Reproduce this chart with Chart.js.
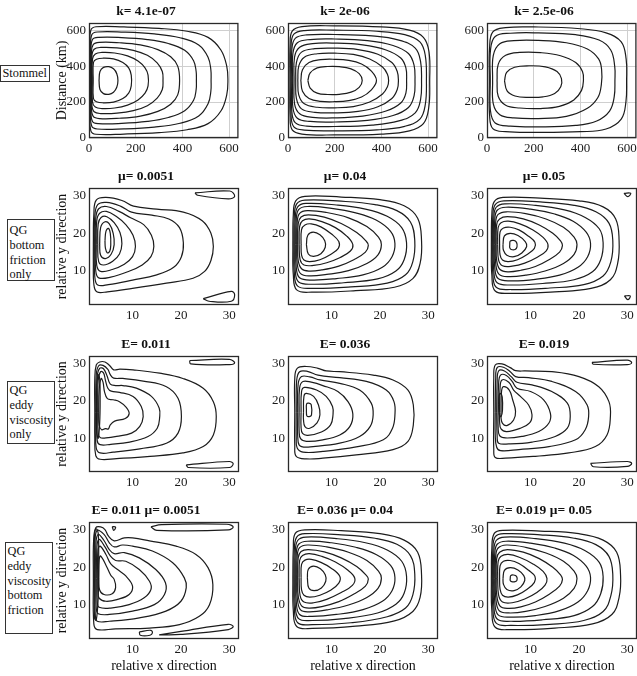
<!DOCTYPE html>
<html lang="en">
<head>
<meta charset="UTF-8">
<title>Stommel vs QG contours</title>
<script src="https://cdn.jsdelivr.net/npm/chart.js"></script>
<style>
  body { margin: 0; background: #fff; }
  #fig { position: relative; width: 637px; height: 676px; overflow: hidden; font-family: "Liberation Serif", "Times New Roman", serif; }
  #fig canvas { position: absolute; }
  .rowlabel { position: absolute; box-sizing: border-box; border: 1.5px solid #333; background: #fff;
              font-size: 12.3px; line-height: 14.8px; color: #111; padding: 1px 0 0 1.5px; z-index: 2; white-space: nowrap; }
</style>
</head>
<body>
<div id="fig">
  <div class="rowlabel" style="left:0;top:65px;width:50px;height:17px;line-height:13px;">Stommel</div>
  <div class="rowlabel" style="left:7px;top:219px;width:48px;height:62px;padding-top:3px;">QG<br>bottom<br>friction<br>only</div>
  <div class="rowlabel" style="left:7px;top:381px;width:48px;height:63px;">QG<br>eddy<br>viscosity<br>only</div>
  <div class="rowlabel" style="left:5px;top:542px;width:48px;height:92px;">QG<br>eddy<br>viscosity<br>bottom<br>friction</div>
</div>
<script>
// contour lines, one flat list [x0,y0,x1,y1,...] per closed curve

// Stommel, k = 4.1e-07
const stommelA = [
  [3,320, 3.5,500, 8,600, 30,619, 150,618, 300,610, 420,594, 510,560, 565,490, 590,400, 595,320, 590,240, 565,150, 510,80, 420,46, 300,30, 150,22, 30,21, 8,40, 3.5,140, 3,320],
  [5,320, 6,490, 12,575, 35,590, 150,589, 280,579, 390,558, 470,518, 510,450, 522,380, 523,320, 522,260, 510,190, 470,122, 390,82, 280,61, 150,51, 35,50, 12,65, 6,150, 5,320],
  [7,320, 8,480, 15,548, 40,560, 140,559, 250,548, 340,526, 410,488, 448,430, 459,370, 460,320, 459,270, 448,210, 410,152, 340,114, 250,92, 140,81, 40,80, 15,92, 8,160, 7,320],
  [9,320, 10,470, 18,520, 45,532, 130,530, 220,518, 295,492, 350,452, 380,400, 388,320, 380,240, 350,188, 295,148, 220,122, 130,110, 45,108, 18,120, 10,170, 9,320],
  [11,320, 12,455, 22,494, 50,504, 120,502, 190,488, 250,460, 292,418, 314,370, 317,320, 314,270, 292,222, 250,180, 190,152, 120,138, 50,136, 22,146, 12,185, 11,320],
  [14,320, 15,440, 27,468, 55,476, 110,473, 165,457, 210,428, 240,390, 253,350, 253,290, 240,250, 210,212, 165,183, 110,167, 55,164, 27,172, 15,200, 14,320],
  [18,320, 19,420, 32,438, 60,444, 105,440, 145,420, 170,390, 181,350, 181,290, 170,250, 145,220, 105,200, 60,196, 32,202, 19,220, 18,320],
  [43,320, 47,370, 62,393, 85,397, 105,385, 119,358, 124,320, 119,282, 105,255, 85,243, 62,247, 47,270, 43,320]
];

// Stommel, k = 2e-06
const stommelB = [
  [8,320, 9,520, 18,595, 60,620, 200,624, 400,618, 520,600, 580,560, 604,480, 607,320, 603,170, 580,80, 520,40, 400,22, 200,17, 60,22, 18,45, 9,120, 8,320],
  [12,320, 13,510, 25,578, 70,598, 200,600, 380,594, 500,575, 565,535, 588,460, 593,320, 588,185, 565,105, 500,65, 380,45, 200,40, 70,44, 25,62, 13,130, 12,320],
  [16,320, 17,500, 32,556, 80,574, 200,576, 360,568, 475,545, 545,500, 568,425, 572,320, 568,215, 545,140, 475,95, 360,72, 200,64, 80,66, 32,84, 17,140, 16,320],
  [20,320, 21,470, 40,530, 95,548, 200,551, 340,542, 450,515, 516,470, 540,405, 544,320, 540,235, 516,170, 450,125, 340,98, 200,89, 95,92, 40,110, 21,170, 20,320],
  [26,320, 28,450, 50,505, 105,525, 200,528, 320,518, 420,490, 483,445, 505,390, 508,320, 505,250, 483,195, 420,150, 320,122, 200,112, 105,115, 50,135, 28,190, 26,320],
  [33,320, 36,420, 58,478, 115,497, 200,500, 300,492, 385,466, 445,420, 468,370, 473,320, 468,270, 445,220, 385,174, 300,148, 200,140, 115,143, 58,162, 36,220, 33,320],
  [42,320, 46,400, 70,450, 125,469, 200,472, 280,465, 350,440, 405,395, 426,355, 431,320, 426,285, 405,245, 350,200, 280,175, 200,168, 125,171, 70,190, 46,240, 42,320],
  [55,320, 62,380, 90,420, 140,436, 200,438, 260,432, 315,412, 355,375, 379,320, 355,265, 315,228, 260,208, 200,202, 140,204, 90,220, 62,260, 55,320],
  [85,320, 95,362, 125,390, 170,398, 220,397, 270,385, 305,358, 318,320, 305,282, 270,255, 220,243, 170,242, 125,250, 95,278, 85,320]
];

// Stommel, k = 2.5e-06
const stommelC = [
  [10,320, 11,500, 25,590, 80,614, 200,618, 400,608, 510,585, 575,535, 596,440, 598,320, 595,200, 575,105, 510,50, 400,35, 200,31, 80,35, 25,52, 11,130, 10,320],
  [14,320, 15,490, 35,565, 100,583, 220,585, 380,575, 480,545, 530,490, 547,400, 548,320, 545,230, 525,150, 470,95, 380,70, 220,62, 100,66, 35,84, 15,150, 14,320],
  [24,320, 27,460, 55,525, 115,542, 220,543, 340,530, 430,495, 478,440, 491,380, 490,300, 475,225, 430,165, 340,120, 220,108, 115,112, 55,130, 27,190, 24,320],
  [43,320, 48,410, 80,460, 140,476, 230,475, 315,458, 380,420, 409,370, 413,320, 405,265, 372,212, 310,176, 230,164, 140,167, 80,182, 48,232, 43,320],
  [75,318, 84,365, 118,394, 180,402, 250,396, 300,370, 319,330, 316,285, 290,248, 240,229, 180,226, 120,234, 86,262, 75,318]
];

// QG bottom friction only, mu = 0.0051
const bottomA = [
  [1.9,17, 2.0,25, 2.5,28.8, 4.5,29.5, 7.8,28.7, 10.2,27.2, 15,26.4, 20.5,25.6, 24.4,23.3, 26.2,20, 26.7,16.5, 26.2,12.8, 24.9,9.9, 22.5,8.1, 17,6.8, 10,5.4, 4.8,4.5, 2.6,4.5, 2.0,6.5, 1.9,12, 1.9,17],
  [2.1,17, 2.2,24.5, 2.8,27.6, 4.6,28.2, 7.5,27.2, 9.8,25.6, 14,24.8, 17.5,23.8, 19.7,21.5, 20.5,17.5, 20.1,13.8, 18.5,11, 15,9, 10,7.6, 5,6.4, 2.8,6.3, 2.2,8.5, 2.1,17],
  [2.3,17, 2.4,24, 3,26.5, 4.6,27.1, 7.2,25.8, 9.6,24.1, 12.3,22.3, 13.9,19.5, 14.4,16.5, 13.8,13.8, 12,11.6, 9,9.8, 5.5,8.4, 3,8.2, 2.4,10, 2.3,17],
  [2.5,17, 2.6,23.3, 3.2,25.3, 4.6,25.8, 6.6,24.5, 8.6,22.3, 10.1,19.5, 10.6,16.5, 10,13.8, 8.3,11.8, 5.8,10.4, 3.4,9.9, 2.6,11.5, 2.5,17],
  [2.8,17, 2.9,22.5, 3.5,24.2, 4.7,24.4, 6.2,22.8, 7.4,20.2, 7.8,17.2, 7.3,14.5, 5.9,12.6, 4,11.6, 3,12.5, 2.8,17],
  [3.2,17, 3.4,21.5, 4.2,23, 5.2,22.5, 6,20, 6.2,17, 5.6,14.5, 4.4,13.3, 3.4,14.2, 3.2,17],
  [4.3,18, 4.5,20.5, 5,21.3, 5.4,20, 5.5,17, 5.3,15.3, 4.8,14.8, 4.4,16, 4.3,18],
  [22.9,30.7, 30.1,31.2, 31.1,29.8, 29.8,29.1, 23.4,30.1, 22.9,30.7],
  [24.6,2.7, 30.4,4.6, 31.1,3.7, 30.4,2.0, 25.8,2.0, 24.6,2.7]
];

// QG bottom friction only, mu = 0.04
const bottomB = [
  [2.0,17, 2.1,25, 2.6,28.6, 4.5,29.8, 12,29.6, 20,28.9, 25,27.3, 27.8,24, 28.6,18, 28.3,12, 26.8,8, 23,5.7, 15,4.8, 6,4.4, 2.8,5, 2.1,9, 2.0,17],
  [2.2,17, 2.3,24.5, 2.8,27.8, 4.5,28.8, 12,28.5, 19,27.6, 23.5,26, 26.3,23, 27.2,18, 26.8,12.5, 25.3,9, 21.5,6.8, 14,5.8, 6,5.4, 3,6, 2.3,9.5, 2.2,17],
  [2.4,17, 2.5,24, 3,27, 4.7,27.9, 11,27.5, 17,26.4, 21.5,24.5, 24.5,21.5, 25.5,17.5, 25,13, 23.3,10, 19.5,7.9, 12.5,6.9, 6,6.5, 3.2,7.1, 2.5,10, 2.4,17],
  [2.6,17, 2.7,23.5, 3.2,26.3, 5,27.1, 10,26.6, 15,25.4, 19.2,23.5, 22.2,20.5, 23.1,17.3, 22.5,13.8, 20.5,11, 16.5,9, 11,8, 6,7.6, 3.4,8.2, 2.7,11, 2.6,17],
  [2.8,17, 2.9,23, 3.4,25.3, 5,26, 9,25.5, 13.5,24.1, 17.3,21.8, 19.7,19, 20.3,17, 19.6,14.3, 17.3,12, 13.5,10.1, 9,9.1, 5.5,8.7, 3.6,9.3, 2.9,12, 2.8,17],
  [3.0,17, 3.1,22.5, 3.7,24.3, 5.2,24.9, 8.5,24.3, 12,22.6, 15.2,20.2, 17.1,18, 17.6,16.8, 17,15, 14.6,13, 11.5,11.3, 8,10.3, 5.3,10, 3.8,10.6, 3.1,12.8, 3.0,17],
  [3.3,17, 3.4,21.8, 4,23.3, 5.4,23.8, 8,23.1, 10.8,21.5, 13.2,19.2, 14.4,17, 13.9,15.3, 11.8,13.6, 9,12.2, 6.3,11.5, 4.3,11.6, 3.5,13, 3.3,17],
  [3.7,17, 3.8,21, 4.5,22.2, 5.8,22.5, 7.8,21.7, 10,19.8, 11.5,17.8, 11.4,16, 9.8,14.4, 7.6,13, 5.5,12.5, 4.3,12.9, 3.8,14.2, 3.7,17],
  [4.8,17, 5.1,19.5, 6.2,20.3, 7.6,19.6, 8.6,18, 8.7,16.3, 7.8,14.6, 6.3,13.9, 5.2,14.5, 4.8,17]
];

// QG bottom friction only, mu = 0.05
const bottomC = [
  [1.9,17, 2.0,25, 2.5,28.4, 4.3,29.5, 12,29.3, 20,28.6, 25,27, 27.6,23.8, 28.3,18, 28,12, 26.5,7.7, 22.5,5.4, 15,4.5, 6,4.1, 2.7,4.7, 2.0,9, 1.9,17],
  [2.1,17, 2.2,24.5, 2.7,27.6, 4.5,28.6, 12,28.3, 19,27.4, 23.5,25.7, 26.2,22.7, 27,18, 26.6,12.5, 25,8.7, 21,6.4, 14,5.5, 6,5.1, 2.9,5.7, 2.2,9.5, 2.1,17],
  [2.3,17, 2.4,24, 2.9,26.9, 4.7,27.8, 11,27.4, 17,26.2, 21.3,24.2, 24.2,21.2, 25,17.5, 24.5,13, 22.8,9.8, 19,7.7, 12.5,6.7, 6,6.3, 3.1,6.9, 2.4,10, 2.3,17],
  [2.5,17, 2.6,23.5, 3.1,26.1, 4.9,26.9, 10,26.4, 15,25.1, 18.8,23.2, 21.5,20.3, 22.4,17.3, 21.8,13.8, 19.8,11, 16,8.9, 11,7.8, 6,7.4, 3.3,8, 2.6,11, 2.5,17],
  [2.7,17, 2.8,23, 3.3,25, 5,25.7, 9,25.2, 13.2,23.8, 16.8,21.6, 19,19, 19.6,17, 19,14.4, 16.8,12, 13,10, 9,8.9, 5.5,8.5, 3.5,9.1, 2.8,12, 2.7,17],
  [2.9,17, 3.0,22.3, 3.6,23.8, 5.2,24.4, 8.5,23.8, 11.8,22.2, 14.6,20, 16.2,18, 16.6,16.8, 16,15, 13.8,13, 11,11.2, 8,10.2, 5.3,9.8, 3.7,10.4, 3.0,12.8, 2.9,17],
  [3.2,17, 3.3,21.5, 3.9,22.8, 5.4,23.2, 7.8,22.5, 10.5,20.9, 12.6,18.9, 13.6,17, 13.2,15.3, 11.3,13.6, 8.8,12.1, 6.2,11.3, 4.2,11.4, 3.4,12.9, 3.2,17],
  [3.6,17, 3.7,20.4, 4.4,21.4, 5.8,21.6, 7.6,20.9, 9.6,19.2, 10.9,17.6, 10.8,16, 9.3,14.4, 7.3,13, 5.4,12.5, 4.2,12.9, 3.7,14.3, 3.6,17],
  [4.3,17, 4.6,19.3, 5.8,20, 7.4,19.4, 8.9,17.8, 9.2,16.5, 8.2,14.8, 6.6,13.8, 5.1,14.2, 4.4,15.5, 4.3,17],
  [5.7,16.9, 5.8,17.9, 6.5,18.1, 7.1,17.6, 7.2,16.4, 6.8,15.7, 6,15.7, 5.7,16.2, 5.7,16.9],
  [29.3,30.6, 30.7,30.6, 30.1,29.7, 29.3,30.6],
  [29.4,3.4, 30.6,3.4, 30.1,2.4, 29.4,3.4]
];

// QG eddy viscosity only, E = 0.011
const eddyA = [
  [2.2,17, 2.2,26, 2.5,29.6, 3.2,30.4, 4.3,30.4, 5.3,29.4, 6.1,28.3, 7.4,28.5, 10.1,28.3, 15.6,27.4, 20.4,26, 24.6,23.4, 26.7,19.8, 27.3,15.8, 26.7,10.9, 24.6,7.8, 20.4,6.1, 13.6,5.2, 6.7,4.6, 3.3,4.4, 2.4,5.4, 2.2,10, 2.2,17],
  [2.4,17, 2.5,27, 3.0,29.4, 3.9,29.5, 4.9,28.4, 5.4,27, 6.1,26.1, 8,26, 12.2,25.3, 17,23.8, 19.4,20.7, 20.1,15.8, 19.4,11.4, 17,8.7, 11.5,7.2, 6,6.3, 3.3,6.1, 2.5,7.4, 2.4,12, 2.4,17],
  [2.6,17, 2.7,26.5, 3.2,28.7, 4.0,28.6, 4.7,26.8, 5.4,24.5, 6.5,24.1, 8,24.1, 10.8,23.4, 13.9,21.2, 15.5,18.1, 15.6,15.6, 15.1,12.7, 13.2,10.5, 9.4,9, 5.5,8.4, 3.3,8.3, 2.7,9.4, 2.6,17],
  [2.8,17, 2.9,25.5, 3.4,27.8, 4.0,27.5, 4.4,25.5, 4.9,23.4, 5.6,22.6, 7.3,22.3, 10.1,21.2, 11.8,18.5, 12.2,15.8, 11.5,13.2, 9.8,11.4, 6.7,10.5, 4.5,10.1, 3.3,10.2, 2.9,11.5, 2.8,17],
  [3.0,17, 3.1,23, 3.5,26, 3.9,25, 4.2,22.5, 4.8,20.6, 6,20.3, 7.3,19.8, 8.7,18.3, 9.3,16.6, 8.5,15.3, 6.3,14.6, 5.4,13.6, 5.0,12.5, 4.4,12.6, 3.6,12.3, 3.1,13.5, 3.0,17],
  [2.5,17, 2.6,24, 2.9,27, 3.2,26, 3.3,20, 3.2,14, 2.9,10, 2.6,12, 2.5,17],
  [21.8,30.8, 30.0,31.1, 31.1,30.2, 30.0,29.7, 22.0,29.9, 21.8,30.8],
  [21.1,2.9, 30.0,3.8, 30.8,3.2, 30.0,2.2, 21.5,2.2, 21.1,2.9]
];

// QG eddy viscosity only, E = 0.036
const eddyB = [
  [2.4,17, 2.4,26, 2.9,28.7, 4.8,29.2, 7.2,28.7, 8.9,28.0, 11.7,27.8, 18.6,26.9, 22.7,25.6, 25.8,22.9, 26.9,18.9, 26.9,13.6, 25.8,9.2, 22.7,7, 15.1,5.6, 8.2,4.7, 4.8,4.5, 2.7,5.2, 2.4,8, 2.4,17],
  [2.7,17, 2.8,25.5, 3.4,27.8, 5,27.9, 7.2,26.9, 11.7,26.2, 17.2,25.2, 21.3,22.9, 22.9,19.8, 23.1,16.3, 22.6,12.7, 20.7,9.6, 15.1,7.7, 8.2,6.5, 4.1,6.3, 2.9,7.4, 2.7,10, 2.7,17],
  [3.0,17, 3.1,24.5, 3.8,26.5, 5.5,26.4, 7.6,25.6, 11.7,24.7, 15.8,22.9, 18.2,19.4, 18.6,16.3, 18,13.2, 15.8,10.5, 11.7,8.7, 6.2,7.8, 3.8,7.8, 3.1,9, 3.0,17],
  [3.3,17, 3.4,23.5, 4.1,25.2, 5.8,25, 8.2,24.1, 11.3,22.5, 13.4,19.8, 14.4,16.5, 13.8,13.2, 11.7,10.9, 8.2,9.6, 4.8,9.2, 3.6,9.9, 3.3,12, 3.3,17],
  [3.7,17, 3.8,22.5, 4.4,23.6, 6.9,22.9, 8.9,21.2, 10.2,18.5, 10.3,16.3, 9.8,13.6, 7.9,11.7, 5.1,10.8, 4,11.3, 3.7,13, 3.7,17],
  [4.2,17, 4.3,21.3, 4.8,22, 6.3,21.2, 7.3,18.9, 7.6,16.3, 7,14.1, 5.5,12.7, 4.5,13.1, 4.2,15, 4.2,17],
  [4.8,17.6, 4.85,19.2, 5.3,19.4, 5.8,19, 5.85,16.2, 5.4,15.8, 4.9,16, 4.8,17.6]
];

// QG eddy viscosity only, E = 0.019
const eddyC = [
  [2.4,17, 2.4,26, 2.7,29.6, 4.1,29.9, 5.8,28.9, 6.9,28.1, 8.9,28, 14.4,27.8, 20,26.5, 24.1,23.8, 26.2,19.8, 26.5,15.8, 25.8,10.9, 23.4,7.8, 17.9,6.1, 11,5.2, 4.8,4.7, 2.7,4.9, 2.4,7, 2.4,17],
  [2.7,17, 2.8,26, 3.1,28.9, 4.4,29, 5.8,27.8, 6.9,26.5, 9.6,26.2, 14.4,25.2, 19.3,22.5, 21.7,18.9, 22,15.8, 21.3,12.3, 19.3,9.6, 13.8,7.8, 7.6,7, 3.8,6.7, 3,7.6, 2.7,11, 2.7,17],
  [3.0,17, 3.1,25, 3.4,28, 4.6,28, 6,26.5, 7.2,25, 10.3,24.3, 14.4,22.5, 17.6,19.4, 18.2,15.8, 17.6,12.7, 15.1,10.5, 10.3,9, 5.5,8.5, 3.4,8.7, 3.1,10.5, 3.0,17],
  [3.3,17, 3.4,24.5, 3.8,26.9, 5,26.8, 6.2,25.2, 7.2,23.4, 10,22.5, 12.7,20.3, 14.1,16.7, 13.8,14.1, 11.7,11.8, 8.2,10.5, 4.8,10.1, 3.6,10.7, 3.3,13, 3.3,17],
  [3.6,17, 3.7,23.5, 4.1,25.6, 5.5,25, 6.5,22.9, 7.9,21.2, 9.6,18.9, 10.3,16.3, 9.8,14.1, 7.9,12.7, 5.1,11.8, 3.9,12.5, 3.6,14.5, 3.6,17],
  [3.9,17, 4.0,22.5, 4.4,23.8, 5.6,22.9, 6.3,20.3, 6.9,17.2, 6.5,14.9, 5.1,13.4, 4.2,14, 3.9,15.5, 3.9,17],
  [3.4,19, 3.5,21.5, 3.8,22, 4.15,21, 4.2,17.5, 3.9,15.8, 3.55,16.3, 3.4,19],
  [22.7,30.3, 30.0,30.9, 30.9,30.2, 30.0,29.7, 23.0,29.8, 22.7,30.3],
  [22.4,3.3, 30.0,3.8, 30.9,3.3, 30.0,2.5, 23.0,2.4, 22.4,3.3]
];

// QG eddy viscosity + bottom friction, E = 0.011, mu = 0.0051
const bothA = [
  [1.9,17, 1.95,27, 2.4,30.5, 3.4,30.7, 4.3,30, 5,28.3, 6.2,27, 8.3,27.8, 10,27.8, 13.5,27, 19,25.6, 23.1,23.4, 25.6,19.9, 26.6,15.4, 25.9,10.1, 23.8,7, 19.7,4.8, 13.5,3.9, 6.5,3.7, 2.7,3.5, 2.0,5, 1.9,17],
  [2.2,17, 2.25,27, 2.7,29.8, 4.1,28.7, 5.2,26.5, 6.2,25.4, 7.9,25.9, 10,25.6, 14.1,24.3, 18.3,21.2, 20.7,17.2, 21.1,14.6, 20,11, 16.9,8.4, 11.4,6.6, 5.2,5.7, 2.7,5.7, 2.3,7.4, 2.2,17],
  [2.4,17, 2.45,26.5, 2.9,28.7, 4.1,27.1, 5.2,24.7, 6.2,23.6, 8.3,23.9, 11.4,22.5, 14.8,19.4, 16.8,15.9, 16.6,12.8, 14.5,10.1, 10,8.4, 5.2,7.5, 2.9,7.7, 2.5,9.2, 2.4,17],
  [2.6,17, 2.65,25.5, 3.1,27.4, 4.3,25.4, 5.4,23, 6.5,21.8, 8.6,21.6, 11.4,19.4, 13.5,16.3, 13.8,14.1, 12.4,11.9, 9.3,10.1, 5.5,9.2, 3.1,9.4, 2.7,10.8, 2.6,17],
  [2.8,17, 2.85,24.5, 3.3,25.6, 4.5,23.4, 5.5,20.9, 6.9,19.4, 8.6,17.7, 10,15, 9.3,12.8, 6.9,11.5, 4.5,11, 3.1,11.8, 2.85,13.5, 2.8,17],
  [3.0,17, 3.1,22, 3.4,23, 4.6,20.3, 5.5,17.9, 6.2,16.8, 6.5,14.6, 5.8,13, 4.1,12.8, 3.2,14, 3.0,17],
  [2.1,17, 2.15,28.5, 2.5,30.2, 2.9,29, 3.0,22, 2.9,12, 2.5,6, 2.15,6.5, 2.1,17],
  [5.8,30.8, 6.5,30.6, 6.1,29.8, 5.8,30.8],
  [13.8,30.7, 16,31.3, 29.5,31.4, 30.8,30.7, 29.8,29.9, 15,29.8, 13.8,30.7],
  [11.4,2.9, 13.8,3.3, 14.1,2.6, 13.6,2.0, 11.6,2.0, 11.4,2.9],
  [15.5,2.1, 20,3.0, 29.8,4.9, 30.8,4.3, 29.8,3.5, 20,2.2, 15.5,2.1]
];

// QG eddy viscosity + bottom friction, E = 0.036, mu = 0.04
const bothB = [
  [2.0,17.2, 2.1,25, 2.5,29, 4.5,29.9, 12,29.7, 20,28.9, 25,27.2, 27.8,24, 28.6,18, 28.3,12, 26.8,8.3, 23,5.8, 15,4.4, 6,3.8, 2.8,4.3, 2.1,8.5, 2.0,17.2],
  [2.2,17.2, 2.3,24.5, 2.8,28, 4.5,28.9, 12,28.6, 19,27.7, 23.5,26.1, 26.3,23.1, 27.2,18.2, 26.8,12.7, 25.3,9.2, 21.5,6.9, 14,5.3, 6,4.8, 3,5.3, 2.3,9.5, 2.2,17.2],
  [2.4,17.2, 2.5,24, 3,27.1, 4.7,28, 11,27.6, 17,26.5, 21.5,24.6, 24.5,21.6, 25.5,17.6, 25,13.1, 23.3,10.2, 19.5,7.9, 12.5,6.4, 6,5.9, 3.2,6.4, 2.5,10, 2.4,17.2],
  [2.6,17.2, 2.7,23.5, 3.2,26.1, 5,26.9, 10,26.5, 15,25.3, 19.2,23.4, 22.2,20.5, 23.1,17.3, 22.5,13.8, 20.5,11, 16.5,8.8, 11,7.5, 6,7.0, 3.4,7.5, 2.7,11, 2.6,17.2],
  [2.8,17.2, 2.9,23, 3.4,25.2, 5,25.9, 9,25.4, 13.5,24, 17.3,21.8, 19.7,19, 20.3,17.1, 19.6,14.4, 17.3,12, 13.5,10, 9,8.7, 5.5,8.2, 3.6,8.7, 2.9,12, 2.8,17.2],
  [3.0,17.2, 3.1,22.5, 3.7,24.2, 5.2,24.7, 8.5,24.1, 12,22.5, 15.2,20.2, 17.1,18, 17.6,16.9, 17,15, 14.6,12.9, 11.5,10.9, 8,9.6, 5.3,9.2, 3.8,9.8, 3.1,12.5, 3.0,17.2],
  [3.3,17.2, 3.4,21.8, 4,23.1, 5.4,23.6, 8,22.9, 10.8,21.4, 13.4,19.2, 14.8,17.1, 14.3,15.2, 12,13.3, 9,11.5, 6.3,10.6, 4.3,10.8, 3.5,12.5, 3.3,17.2],
  [3.7,17.2, 3.8,20.8, 4.5,21.9, 5.8,22.1, 7.8,21.3, 10,19.7, 11.7,17.6, 11.5,15.8, 9.8,13.9, 7.6,12.6, 5.5,12.1, 4.3,12.6, 3.8,14, 3.7,17.2],
  [5.0,17.2, 5.2,19.5, 6.3,20.3, 7.7,19.6, 8.7,18, 8.8,16.3, 7.9,14.5, 6.4,13.8, 5.3,14.5, 5.0,17.2]
];

// QG eddy viscosity + bottom friction, E = 0.019, mu = 0.05
const bothC = [
  [1.9,17, 2.0,25, 2.5,29, 4.3,29.8, 12,29.6, 20,28.9, 25,27.2, 27.8,24, 28.6,18, 28.3,12, 26.8,7.5, 22.8,5, 15,3.9, 6,3.5, 2.7,4.1, 2.0,8.5, 1.9,17],
  [2.1,17, 2.2,24.5, 2.7,28.1, 4.5,28.9, 12,28.6, 19,27.7, 23.5,26, 26.2,22.9, 27.0,18, 26.6,12.5, 25,8.3, 21,5.9, 14,4.9, 6,4.6, 2.9,5.2, 2.2,9.5, 2.1,17],
  [2.3,17, 2.4,24, 2.9,27.1, 4.7,28, 11,27.6, 17,26.4, 21.3,24.4, 24.2,21.3, 25,17.5, 24.5,13, 22.8,9.6, 19,7.2, 12.5,6.1, 6,5.7, 3.1,6.3, 2.4,10, 2.3,17],
  [2.5,17, 2.6,23.5, 3.1,26.1, 4.9,26.9, 10,26.4, 15,25.1, 18.8,23.2, 21.5,20.3, 22.4,17.3, 21.8,13.8, 19.8,10.8, 16,8.5, 11,7.2, 6,6.8, 3.3,7.4, 2.6,11, 2.5,17],
  [2.7,17, 2.8,23, 3.3,25.1, 5,25.9, 9,25.3, 13.2,23.8, 16.8,21.6, 19,19, 19.6,17, 19,14.4, 16.8,11.8, 13,9.6, 9,8.3, 5.5,7.9, 3.5,8.5, 2.8,12, 2.7,17],
  [2.9,17, 3.0,22.3, 3.6,24, 5.2,24.7, 8.5,24, 11.8,22.3, 14.6,20, 16.2,18, 16.6,16.8, 16,15, 13.8,12.8, 11,10.8, 8,9.5, 5.3,9.1, 3.7,9.7, 3.0,12.8, 2.9,17],
  [3.2,17, 3.3,21.5, 3.9,22.9, 5.4,23.4, 7.8,22.6, 10.5,20.9, 12.6,18.9, 13.4,17, 13,15.3, 11.3,13.3, 8.8,11.6, 6.2,10.6, 4.2,10.8, 3.4,12.6, 3.2,17],
  [3.6,17, 3.7,20.4, 4.4,21.6, 5.8,21.8, 7.6,21, 9.6,19.2, 10.9,17.6, 10.8,16, 9.3,14.2, 7.3,12.7, 5.4,12.1, 4.2,12.6, 3.7,14.2, 3.6,17],
  [4.3,17, 4.6,19.2, 5.8,19.9, 7.4,19.3, 8.6,17.8, 8.8,16.5, 8,14.8, 6.6,13.8, 5.1,14.1, 4.4,15.5, 4.3,17],
  [5.8,17, 5.9,17.8, 6.5,17.95, 7.1,17.6, 7.2,16.6, 6.8,16.2, 6.1,16.2, 5.8,16.5, 5.8,17]
];

// axes
const stommelRange = [0, 640];
const qgRange = [1, 32];
const stommelTicks = [0, 200, 400, 600];
const qgTicks = [10, 20, 30];

const panelTitles = [
  'k= 4.1e-07', 'k= 2e-06', 'k= 2.5e-06',
  'μ= 0.0051', 'μ= 0.04', 'μ= 0.05',
  'E= 0.011', 'E= 0.036', 'E= 0.019',
  'E= 0.011 μ= 0.0051', 'E= 0.036 μ= 0.04', 'E= 0.019 μ= 0.05'
];
const panelRings = [stommelA, stommelB, stommelC, bottomA, bottomB, bottomC, eddyA, eddyB, eddyC, bothA, bothB, bothC];
const yTitles = ['Distance (km)', 'relative y direction', 'relative y direction', 'relative y direction'];
const xTitle = 'relative x direction';

// layout of the axes boxes in the figure (pixels)
const colLeft = [89, 288, 487];
const rowTop = [23, 188, 356, 522];
const rowHeight = [115, 117, 116, 117];
const boxWidth = 150;
const serif = 'Liberation Serif';
const lineColor = '#1c1c1c';

// draws the closed axes box like MATLAB "box on"
const boxFrame = {
    id: 'boxFrame',
    afterDraw(chart) {
        const {ctx, chartArea: a} = chart;
        ctx.save();
        ctx.strokeStyle = '#2a2a2a';
        ctx.lineWidth = 1.3;
        ctx.strokeRect(a.left + 0.5, a.top + 0.5, a.right - a.left - 1, a.bottom - a.top - 1);
        ctx.restore();
    }
};

function toPoints(ring) {
    const pts = [];
    for (let k = 0; k < ring.length; k += 2) pts.push({x: ring[k], y: ring[k + 1]});
    return pts;
}

const fig = document.getElementById('fig');

panelRings.forEach((rings, i) => {
    const row = Math.floor(i / 3), col = i % 3;
    const stommel = row === 0;
    const range = stommel ? stommelRange : qgRange;
    const ticks = stommel ? stommelTicks : qgTicks;
    const padL = 36, padR = 3, titleH = 19;
    const axisH = row === 3 ? 36 : 20;
    const h = rowHeight[row];

    const canvas = document.createElement('canvas');
    canvas.width = boxWidth + padL + padR;
    canvas.height = h + titleH + axisH;
    canvas.style.left = (colLeft[col] - padL) + 'px';
    canvas.style.top = (rowTop[row] - titleH) + 'px';
    fig.appendChild(canvas);

    const tickFont = {family: serif, size: 13};
    const setTicks = s => { s.ticks = ticks.map(v => ({value: v})); };

    new Chart(canvas, {
        type: 'scatter',
        data: {
            datasets: rings.map(r => ({
                data: toPoints(r),
                showLine: true,
                tension: 0.4,
                borderColor: lineColor,
                borderWidth: 1.2,
                pointRadius: 0,
                pointHoverRadius: 0
            }))
        },
        options: {
            responsive: false,
            animation: false,
            events: [],
            layout: {padding: {left: 0, right: padR, top: 0, bottom: 0}},
            plugins: {
                legend: {display: false},
                tooltip: {enabled: false},
                title: {
                    display: true,
                    text: panelTitles[i],
                    color: '#111',
                    font: {family: serif, size: 13.5, weight: 'bold', lineHeight: '16px'},
                    padding: {top: 0, bottom: 3}
                }
            },
            scales: {
                x: {
                    type: 'linear',
                    min: range[0], max: range[1],
                    afterBuildTicks: setTicks,
                    afterFit: s => { s.height = axisH; },
                    border: {display: false},
                    grid: {display: stommel, drawTicks: false, color: '#cfcfcf', lineWidth: 1},
                    ticks: {font: tickFont, color: '#1a1a1a', padding: 3, maxRotation: 0},
                    title: {
                        display: row === 3,
                        text: xTitle,
                        color: '#111',
                        font: {family: serif, size: 14, lineHeight: '16px'},
                        padding: {top: 0, bottom: 1}
                    }
                },
                y: {
                    type: 'linear',
                    min: range[0], max: range[1],
                    afterBuildTicks: setTicks,
                    afterFit: s => { s.width = padL; },
                    border: {display: false},
                    grid: {display: stommel, drawTicks: false, color: '#cfcfcf', lineWidth: 1},
                    ticks: {font: tickFont, color: '#1a1a1a', padding: 3},
                    title: {
                        display: col === 0,
                        text: yTitles[row],
                        color: '#111',
                        font: {family: serif, size: 14, lineHeight: '16px'},
                        padding: {top: 1, bottom: 0}
                    }
                }
            }
        },
        plugins: [boxFrame]
    });
});
</script>
</body>
</html>
